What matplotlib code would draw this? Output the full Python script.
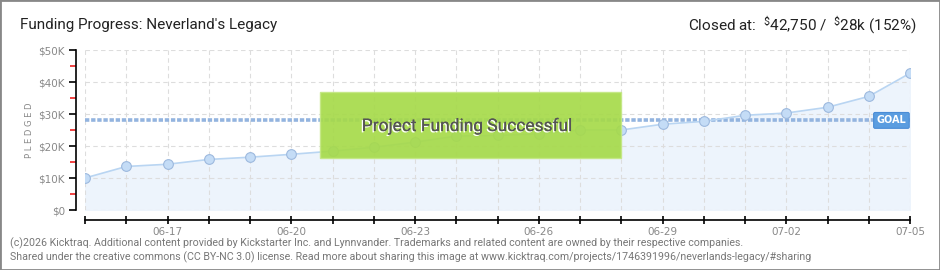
import matplotlib as mpl
mpl.use('Agg')
import matplotlib.pyplot as plt
from matplotlib.patches import Rectangle
import matplotlib.patheffects as pe

mpl.rcParams['mathtext.fontset'] = 'custom'
mpl.rcParams['mathtext.rm'] = 'Roboto'
mpl.rcParams['mathtext.it'] = 'Roboto'
mpl.rcParams['mathtext.bf'] = 'Roboto'

dates = ['06-15', '06-16', '06-17', '06-18', '06-19', '06-20', '06-21',
         '06-22', '06-23', '06-24', '06-25', '06-26', '06-27', '06-28',
         '06-29', '06-30', '07-01', '07-02', '07-03', '07-04', '07-05']
pledged = [10.0, 13.6, 14.3, 15.8, 16.5, 17.4, 18.4, 19.6, 21.2, 23.1, 23.3,
           23.8, 25.0, 25.0, 26.8, 27.7, 29.6, 30.3, 32.1, 35.5, 42.75]
goal = 28.0
yticks = [0, 10, 20, 30, 40, 50]
ytick_labels = ['$0', '$10K', '$20K', '$30K', '$40K', '$50K']
xlabel_every = 3

W, H = 940, 270
fig = plt.figure(figsize=(W / 100, H / 100), dpi=100)
fig.patch.set_facecolor('white')

ax = fig.add_axes([85 / W, 1 - 210 / H, 825 / W, 160 / H])
ax.set_facecolor('none')
x = list(range(len(dates)))

ax.fill_between(x, pledged, 0, color='#edf4fc', zorder=1)
ax.plot(x, pledged, color='#b9d5f2', lw=1.2, zorder=3)
ax.plot(x, pledged, 'o', ms=7, mfc='#c4dcf6', mec='#9db9de', mew=0.8, zorder=4)
ax.axhline(goal, color='#93b4df', lw=2.6, ls=(0, (1.2, 0.5)), zorder=2)

ax.set_xlim(0, len(dates) - 1)
ax.set_ylim(0, 50)
ax.set_yticks(yticks)
ax.set_yticklabels(ytick_labels)
ax.set_yticks([5, 15, 25, 35, 45], minor=True)
ax.set_xticks(x)
ax.set_xticklabels([d if (i - 2) % xlabel_every == 0 else '' for i, d in enumerate(dates)])

ax.grid(True, color='#dddddd', ls=(0, (4, 3)), lw=0.8, zorder=0)
for s in ['top', 'right']:
    ax.spines[s].set_visible(False)
ax.spines['left'].set_position(('outward', 6.5))
ax.spines['bottom'].set_position(('outward', 7.2))
ax.spines['left'].set_linewidth(1.2)
ax.spines['bottom'].set_linewidth(1.2)
ax.tick_params(axis='y', which='major', length=5, width=1.2, labelsize=7.5,
               labelcolor='#888888', pad=3)
ax.tick_params(axis='y', which='minor', length=4, width=1.2, color='#ee2222')
ax.tick_params(axis='x', length=6, width=1.2, direction='inout',
               labelsize=7.5, labelcolor='#888888', pad=2)
ax.set_ylabel('P L E D G E D', fontsize=6, color='#888888', labelpad=3)

# goal tag
ax.text(19.55, goal, 'GOAL', color='white', fontsize=7, ha='center', va='center',
        zorder=6, fontweight='bold',
        bbox=dict(boxstyle='round,pad=0.3,rounding_size=0.15', fc='#5b9de0',
                  ec='#4a8cd6', lw=0.8))

# success overlay
fig.patches.append(Rectangle((320 / W, 1 - 158 / H), 301 / W, 66 / H,
                             transform=fig.transFigure, fc='#a6da4a', ec='#c4e884',
                             lw=1, alpha=0.92, zorder=10))
fig.text(467 / W, 1 - 126 / H, 'Project Funding Successful', fontsize=12.5,
         color='#555555', ha='center', va='center', zorder=11, fontfamily='Roboto',
         path_effects=[pe.withSimplePatchShadow(offset=(-1, -1), shadow_rgbFace='white', alpha=1),
                       pe.Normal()])

# header
fig.text(20 / W, 1 - 25 / H, "Funding Progress: Neverland's Legacy", fontsize=11,
         color='#222222', va='center', fontfamily='Roboto')
fig.text(917 / W, 1 - 25 / H, r'Closed at:  $^{\$}$42,750 /  $^{\$}$28k (152%)',
         fontsize=11, color='#222222', va='center', ha='right', fontfamily='Roboto')

# footer
foot1 = ('(c)2026 Kicktraq. Additional content provided by Kickstarter Inc. and Lynnvander. '
         'Trademarks and related content are owned by their respective companies.')
foot2 = ('Shared under the creative commons (CC BY-NC 3.0) license. Read more about sharing '
         'this image at www.kicktraq.com/projects/1746391996/neverlands-legacy/#sharing')
fig.text(10 / W, 1 - 243 / H, foot1, fontsize=7.7, color='#777777', va='center',
         fontfamily='Roboto')
fig.text(10 / W, 1 - 257 / H, foot2, fontsize=7.7, color='#777777', va='center',
         fontfamily='Roboto')

fig.patches.append(Rectangle((0, 0), 1, 1, transform=fig.transFigure, fill=False,
                             ec='#888888', lw=2, zorder=20))

fig.savefig('out.png', dpi=100)
